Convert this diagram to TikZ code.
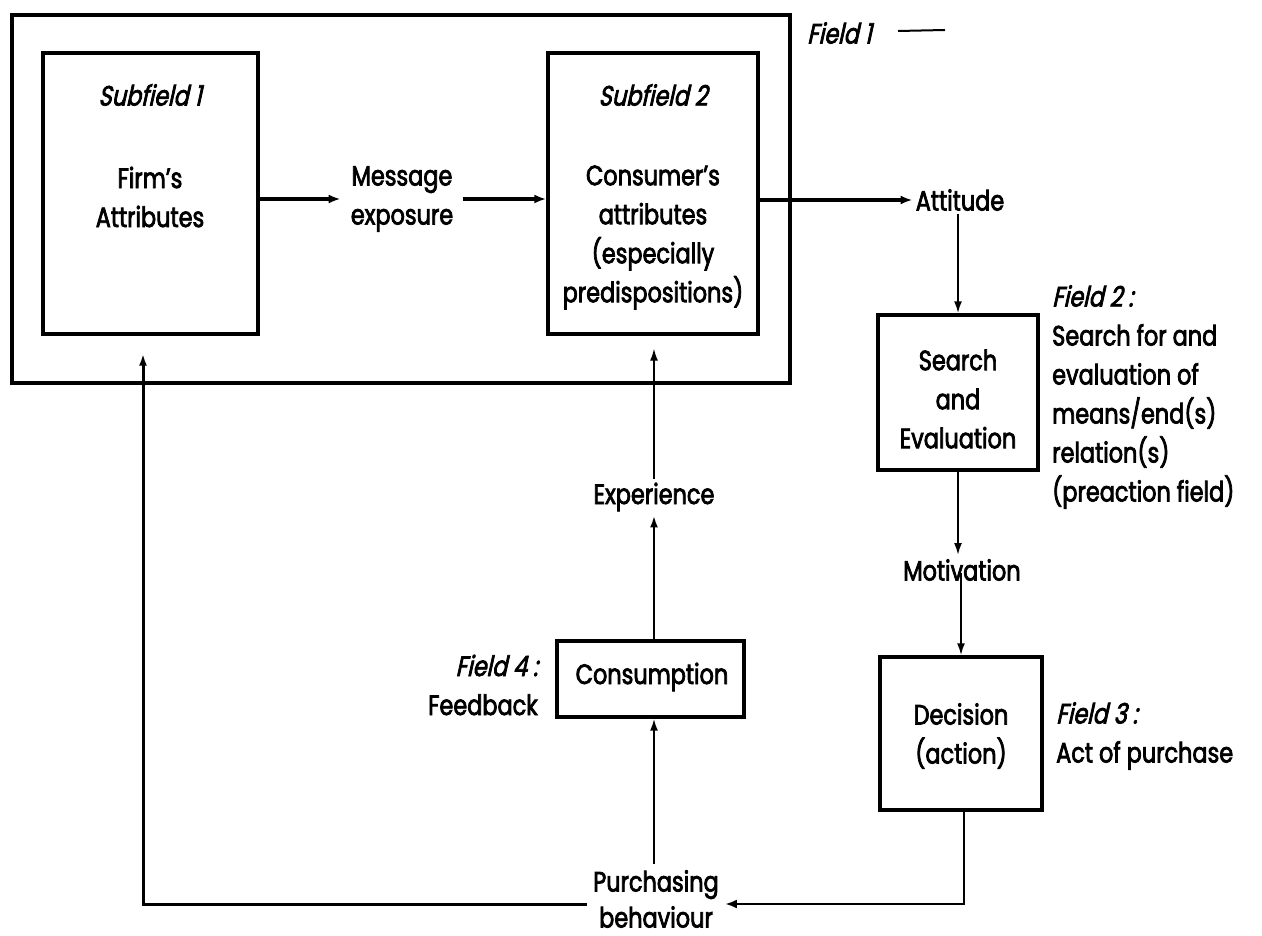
\documentclass[tikz,border=0pt]{standalone}
\usepackage{fontspec}
\setmainfont{Poppins}[FakeStretch=0.8,FakeBold=2.6]
\newfontfamily\oblfont{Poppins}[FakeStretch=0.8,FakeSlant=0.22,FakeBold=2.6]
\usetikzlibrary{arrows.meta}

\tikzset{
  frame/.style={draw, line width=3.4pt, minimum width=#1, inner sep=0pt},
  lbl/.style={inner sep=2pt, align=center, font=\fontsize{28}{39}\selectfont},
  obl/.style={inner sep=2pt, align=center, font=\oblfont\fontsize{28}{39}\selectfont},
  heavy/.style={line width=3.2pt, -{Latex[length=12pt,width=9pt]}},
  light/.style={line width=2pt, -{Latex[length=12pt,width=8pt]}},
  plain/.style={line width=3pt}
}

\begin{document}
\begin{tikzpicture}[x=1pt,y=-1pt]
\useasboundingbox[fill=white] (0,0) rectangle (1262,936);

% boxes
\node[frame=778pt, minimum height=368pt] (field1box) at (401,199) {};
\node[frame=215pt, minimum height=281pt] (sf1) at (150.5,193.5) {};
\node[frame=210pt, minimum height=281pt] (sf2) at (653,193.5) {};
\node[frame=160pt, minimum height=155pt] (search) at (958,392.5) {};
\node[frame=162pt, minimum height=153pt] (decision) at (961,733.5) {};
\node[frame=187pt, minimum height=76pt] (consumption) at (650.5,679) {};

% texts inside the boxes
\node[obl] (sf1title) at (150,95) {Subfield 1};
\node[lbl] (firm) at (150,197) {Firm's\\Attributes};
\node[obl] (sf2title) at (653,95) {Subfield 2};
\node[lbl] (consumer) at (653,237.5) {Consumer's\\attributes\\(especially\\predispositions)};
\node[lbl] (searchtext) at (958,399) {Search\\and\\Evaluation};
\node[lbl] (decisiontext) at (961,736) {Decision\\(action)};
\node[lbl] (consumptiontext) at (652,677) {Consumption};

% free-standing labels
\node[lbl, inner sep=10pt] (message) at (402,199) {Message\\exposure};
\node[lbl, inner sep=3pt] (attitude) at (960,200) {Attitude};
\node[lbl, inner sep=4pt] (motivation) at (962,570) {Motivation};
\node[lbl, inner sep=4pt] (experience) at (654,497) {Experience};
\node[lbl, inner sep=6pt, font=\fontsize{28}{36}\selectfont] (purchasing) at (656,899) {Purchasing\\behaviour};

% field captions
\node[obl, anchor=west] (field1) at (805,33) {Field 1};
\coordinate (f1a) at (898,31);
\coordinate (f1b) at (945,30);
\draw[line width=2pt] (f1a) -- (f1b);
\node[lbl, anchor=west, align=left] (field2) at (1050,397)
  {{\oblfont Field 2 :}\\Search for and\\evaluation of\\means/end(s)\\relation(s)\\(preaction field)};
\node[lbl, anchor=west, align=left] (field3) at (1054,736)
  {{\oblfont Field 3 :}\\Act of purchase};
\node[lbl, anchor=east, align=right] (field4) at (540,685)
  {{\oblfont Field 4 :}\\Feedback};

% main flow
\draw[heavy] (sf1.east |- message.west) -- (message.west);
\draw[heavy] (message.east) -- (sf2.west |- message.east);
\draw[heavy] (sf2.east |- attitude.west) -- (attitude.west);
\draw[light] (attitude.south -| search.north) -- (search.north);
\draw[light] (search.south) -- (search.south |- motivation.north);
\draw[light] (motivation.north -| decision.north) ++(0,18) -- (decision.north);
\coordinate (dturn) at (964,904);
\draw[line width=2.6pt, -{Latex[length=12pt,width=9pt]}] (decision.south -| dturn) -- (dturn) -- (dturn -| purchasing.east);

% feedback loop
\draw[light] (purchasing.north -| experience.south) -- (experience.south |- consumption.south);
\draw[line width=2.4pt, -{Latex[length=12pt,width=8pt]}] (experience.south |- consumption.north) -- (experience.south);
\draw[line width=1.4pt, -{Latex[length=12pt,width=8pt]}, shorten >=13pt]
  (experience.north) -- (experience.north |- sf2.south);
\coordinate (fbcorner) at (143,904);
\draw[plain, -{Latex[length=12pt,width=8pt]}, shorten >=18pt]
  (purchasing.west |- fbcorner) -- (fbcorner) -- (fbcorner |- sf1.south);
\end{tikzpicture}
\end{document}
